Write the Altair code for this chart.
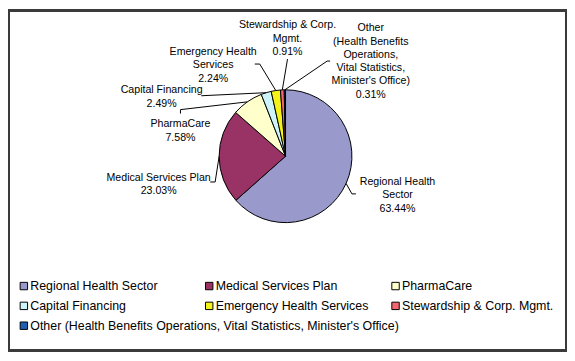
import math
import altair as alt
import pandas as pd

# ---------------- data ----------------
categories = [
    "Regional Health Sector",
    "Medical Services Plan",
    "PharmaCare",
    "Capital Financing",
    "Emergency Health Services",
    "Stewardship & Corp. Mgmt.",
    "Other (Health Benefits Operations, Vital Statistics, Minister's Office)",
]
shares = [63.44, 23.03, 7.58, 2.49, 2.24, 0.91, 0.31]
slice_names = [
    "Regional Health\nSector",
    "Medical Services Plan",
    "PharmaCare",
    "Capital Financing",
    "Emergency Health\nServices",
    "Stewardship & Corp.\nMgmt.",
    "Other\n(Health Benefits\nOperations,\nVital Statistics,\nMinister's Office)",
]
colors = ["#9999CC", "#993366", "#FFFFCC", "#CCF4FA", "#F5F21A", "#F26670", "#1F5FB0"]

# ---------------- layout (reference pixel coords) ----------------
OFF = 8
W, H = 564, 345
CX, CY, R = 288, 156, 67
label_pos = [(401, 185), (160, 181), (182, 127), (163, 92.5), (215, 54), (290, 27), (374, 30)]
leader_bends = [
    [(355, 194), (359, 194)],
    [(217, 182), (212, 182)],
    [(182, 109), (182, 113)],
    [(203, 95)],
    [(262, 63), (257, 63)],
    [(290, 58)],
    [(330, 60), (333, 60)],
]
legend_cols = [24, 211, 399]
legend_rows = [287, 307, 327]
FONT = "Liberation Sans"

# ---------------- tables ----------------
pie_df = pd.DataFrame({"cat": categories, "value": shares, "idx": list(range(len(shares)))})

lab_rows = []
for i, (name, v) in enumerate(zip(slice_names, shares)):
    lab_rows.append({"x": label_pos[i][0] - OFF, "y": label_pos[i][1] - OFF,
                     "txt": f"{name}\n{v:.2f}%"})
lab_df = pd.DataFrame(lab_rows)

total = sum(shares)
line_rows = []
cum = 0.0
for i, v in enumerate(shares):
    mid = (cum + v / 2) / total * 2 * math.pi
    cum += v
    px = CX + R * math.sin(mid)
    py = CY - R * math.cos(mid)
    pts = [(px, py)] + leader_bends[i]
    for k, (x, y) in enumerate(pts):
        line_rows.append({"id": i, "k": k, "x": x - OFF, "y": y - OFF})
line_df = pd.DataFrame(line_rows)

leg_rows = []
for i, c in enumerate(categories):
    leg_rows.append({"cat": c, "x": legend_cols[i % 3] - OFF, "y": legend_rows[i // 3] - OFF})
leg_df = pd.DataFrame(leg_rows)

xs = alt.Scale(domain=[0, W], range=[0, W])
ys = alt.Scale(domain=[0, H], range=[0, H])
cscale = alt.Scale(domain=categories, range=colors)

pie = alt.Chart(pie_df).mark_arc(outerRadius=R, stroke="black", strokeWidth=1).encode(
    theta=alt.Theta("value:Q", stack=True),
    color=alt.Color("cat:N", scale=cscale, legend=None),
    order=alt.Order("idx:Q"),
    x=alt.value(CX - OFF),
    y=alt.value(CY - OFF),
)

leaders = alt.Chart(line_df).mark_line(color="black", strokeWidth=1).encode(
    x=alt.X("x:Q", scale=xs, axis=None),
    y=alt.Y("y:Q", scale=ys, axis=None),
    detail="id:N",
    order="k:Q",
)

labels = alt.Chart(lab_df).mark_text(
    align="center", baseline="alphabetic", lineBreak="\n", lineHeight=13.4,
    font=FONT, fontSize=10.7, color="black",
).encode(
    x=alt.X("x:Q", scale=xs, axis=None),
    y=alt.Y("y:Q", scale=ys, axis=None),
    text="txt:N",
)

leg_sq = alt.Chart(leg_df).mark_point(
    shape="square", filled=True, size=56, stroke="black", strokeWidth=1, opacity=1,
).encode(
    x=alt.X("x:Q", scale=xs, axis=None),
    y=alt.Y("y:Q", scale=ys, axis=None),
    fill=alt.Fill("cat:N", scale=cscale, legend=None),
)

leg_txt = alt.Chart(leg_df).mark_text(
    align="left", baseline="middle", dx=6.5, font=FONT, fontSize=12.5, color="black",
).encode(
    x=alt.X("x:Q", scale=xs, axis=None),
    y=alt.Y("y:Q", scale=ys, axis=None),
    text="cat:N",
)

frame = alt.Chart(pie_df).mark_rect(fill=None, stroke="#3a3a3a", strokeWidth=2).encode(
    x=alt.value(1), x2=alt.value(W - 1), y=alt.value(1), y2=alt.value(H - 1),
)

chart = alt.layer(frame, pie, leaders, labels, leg_sq, leg_txt).properties(
    width=W, height=H, autosize=alt.AutoSizeParams(type="none"), padding=0,
).configure_view(stroke=None)

chart.save("out.html", embed_options={"renderer": "svg", "actions": False})
